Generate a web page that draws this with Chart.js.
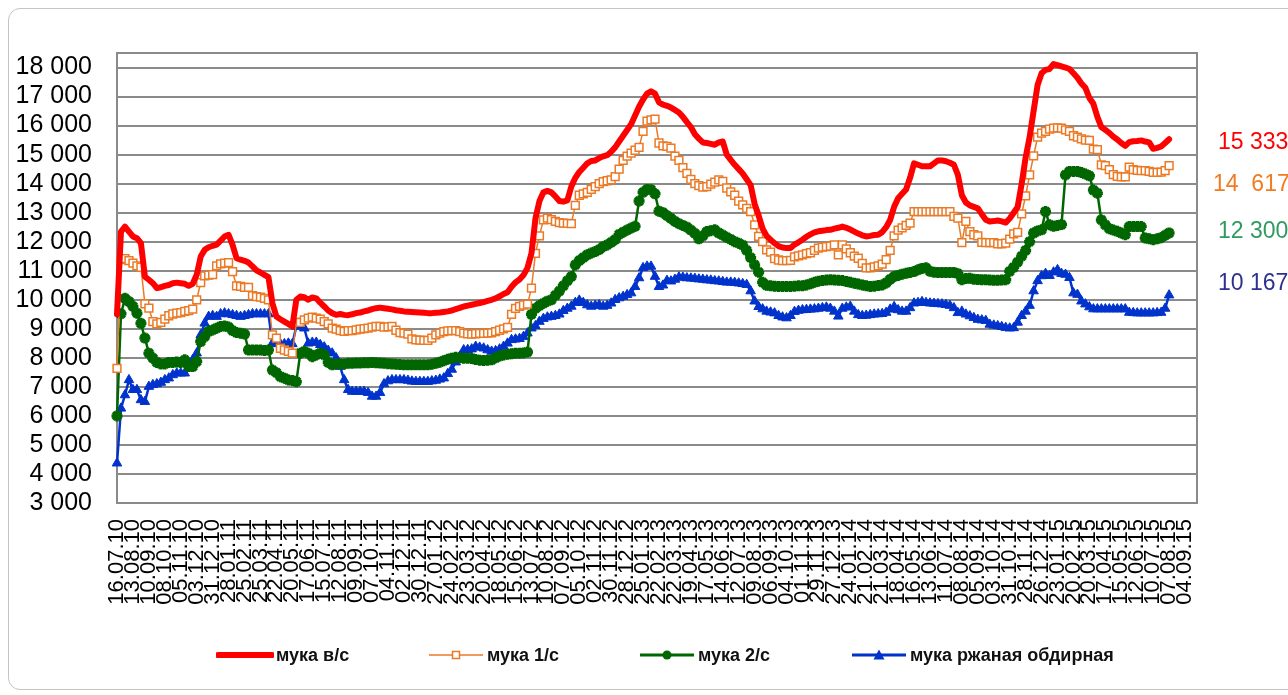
<!DOCTYPE html>
<html>
<head>
<meta charset="utf-8">
<script src="https://cdn.jsdelivr.net/npm/chart.js@4.4.1/dist/chart.umd.min.js"></script>
<style>
  body { margin: 0; background: #fff; }
  #wrap { position: relative; width: 1288px; height: 695px; overflow: hidden; background: #fff; }
  #frame { position: absolute; left: 8px; top: 8px; width: 1320px; height: 680px; border: 1.5px solid #c4c4c4; border-radius: 12px; }
  canvas { position: absolute; left: 0; top: 0; }
  .val { position: absolute; font: 23px 'Liberation Sans', Arial, sans-serif; line-height: 26px; white-space: pre; }
  .leg { position: absolute; top: 644px; height: 22px; display: flex; align-items: center; font: bold 18px 'Liberation Sans', Arial, sans-serif; color: #111; white-space: nowrap; }
  .leg svg { margin-right: 2px; }
</style>
</head>
<body>
<div id="wrap">
  <div id="frame"></div>
  <canvas id="chart" width="1288" height="695"></canvas>

  <span class="val" style="left:1218px; top:128px; color:#ff0000">15 333</span>
  <span class="val" style="left:1213px; top:170px; color:#f07c22">14  617</span>
  <span class="val" style="left:1218px; top:217px; color:#2f9a5f">12 300</span>
  <span class="val" style="left:1218px; top:269px; color:#2e3192">10 167</span>

  <div class="leg" style="left:216px">
    <svg width="58" height="14"><line x1="2" y1="7" x2="56" y2="7" stroke="#ff0000" stroke-width="6" stroke-linecap="round"/></svg>мука в/с
  </div>
  <div class="leg" style="left:427px">
    <svg width="58" height="14"><line x1="2" y1="7" x2="56" y2="7" stroke="#eb7a26" stroke-width="1.5"/><rect x="25.5" y="3.5" width="7" height="7" fill="#fff" stroke="#eb7a26" stroke-width="1.5"/></svg>мука 1/с
  </div>
  <div class="leg" style="left:638px">
    <svg width="58" height="14"><line x1="2" y1="7" x2="56" y2="7" stroke="#006600" stroke-width="3"/><circle cx="29" cy="7" r="4.5" fill="#006600"/></svg>мука 2/с
  </div>
  <div class="leg" style="left:850px">
    <svg width="58" height="14"><line x1="2" y1="7" x2="56" y2="7" stroke="#0033cc" stroke-width="3"/><polygon points="29,1.5 34.5,11.5 23.5,11.5" fill="#0033cc"/></svg>мука ржаная обдирная
  </div>
</div>

<script>
// weekly prices, 16.07.10 .. 07.08.15
const tickLabels = [
  '16.07.10', '13.08.10', '10.09.10', '08.10.10', '05.11.10', '03.12.10', '31.12.10',
  '28.01.11', '25.02.11', '25.03.11', '22.04.11', '20.05.11', '17.06.11', '15.07.11', '12.08.11',
  '09.09.11', '07.10.11', '04.11.11', '02.12.11', '30.12.11',
  '27.01.12', '24.02.12', '23.03.12', '20.04.12', '18.05.12', '15.06.12', '13.07.12', '10.08.12',
  '07.09.12', '05.10.12', '02.11.12', '30.11.12', '28.12.12',
  '25.01.13', '22.02.13', '22.03.13', '19.04.13', '17.05.13', '14.06.13', '12.07.13', '09.08.13',
  '06.09.13', '04.10.13', '01.11.13', '29.11.13', '27.12.13',
  '24.01.14', '21.02.14', '21.03.14', '18.04.14', '16.05.14', '13.06.14', '11.07.14', '08.08.14',
  '05.09.14', '03.10.14', '31.10.14', '28.11.14', '26.12.14',
  '23.01.15', '20.02.15', '20.03.15', '17.04.15', '15.05.15', '12.06.15', '10.07.15', '07.08.15', '04.09.15'
];

const yTicks = [3000, 4000, 5000, 6000, 7000, 8000, 9000, 10000, 11000, 12000,
  13000, 14000, 15000, 16000, 17000, 18000];

const vs = [
  9500, 12350, 12520, 12350, 12180, 12120, 11950, 10800, 10690, 10570,
  10400, 10430, 10480, 10510, 10570, 10590, 10570, 10550, 10480, 10550,
  10860, 11490, 11720, 11810, 11860, 11900, 12040, 12180, 12240, 11890,
  11430, 11380, 11340, 11280, 11150, 11010, 10940, 10860, 10780, 9880,
  9420, 9330, 9250, 9170, 9080, 10000, 10110, 10090, 10000, 10080,
  10050, 9900, 9770, 9630, 9540, 9480, 9510, 9480, 9470, 9500,
  9540, 9560, 9600, 9630, 9680, 9710, 9730, 9710, 9690, 9670,
  9640, 9620, 9600, 9590, 9580, 9570, 9560, 9550, 9540, 9540,
  9550, 9560, 9580, 9600, 9630, 9680, 9720, 9770, 9800, 9830,
  9860, 9890, 9920, 9960, 10000, 10050, 10120, 10200, 10260, 10450,
  10600, 10700, 10850, 11100, 11600, 12800, 13400, 13700, 13750, 13700,
  13560, 13400, 13380, 13420, 13900, 14200, 14400, 14550, 14700, 14780,
  14800, 14880, 14940, 14980, 15100, 15250, 15450, 15650, 15850, 16050,
  16350, 16650, 16900, 17100, 17180, 17100, 16800, 16720, 16680, 16620,
  16540, 16450, 16300, 16120, 15950, 15700, 15550, 15420, 15400, 15370,
  15340, 15420, 15450, 15000, 14820, 14650, 14500, 14350, 14150, 13950,
  13300, 12900, 12450, 12200, 12070, 11950, 11850, 11800, 11780, 11780,
  11900, 11980, 12070, 12170, 12250, 12320, 12360, 12380, 12400, 12410,
  12450, 12480, 12520, 12480, 12420, 12350, 12280, 12220, 12180, 12200,
  12230, 12240, 12330, 12500, 12750, 13200, 13500, 13650, 13800, 14200,
  14700, 14650, 14600, 14600, 14600, 14700, 14800, 14800, 14770, 14720,
  14650, 14300, 13600, 13350, 13250, 13200, 13150, 12950, 12760, 12700,
  12710, 12730, 12700, 12660, 12800, 13000, 13200, 14000, 14900, 15600,
  16500, 17400, 17800, 17920, 17950, 18120, 18080, 18040, 18000, 17950,
  17800, 17650, 17450, 17300, 16950, 16750, 16300, 15950, 15850, 15750,
  15620, 15520, 15400, 15300, 15430, 15460, 15470, 15490, 15450, 15420,
  15200, 15230, 15280, 15400, 15530
];

const first = [
  7640, 11380, 11420, 11350, 11260, 11170, 11120, 9860, 9710, 9250,
  9170, 9220, 9330, 9450, 9510, 9540, 9560, 9600, 9630, 9680,
  10000, 10590, 10820, 10850, 10870, 11170, 11240, 11260, 11280, 10970,
  10480, 10460, 10430, 10430, 10140, 10110, 10090, 10050, 10000, 8790,
  8680, 8330, 8270, 8220, 8160, 9220, 9220, 9310, 9370, 9400,
  9370, 9330, 9250, 9170, 9020, 8990, 8940, 8910, 8940, 8940,
  8960, 8990, 9010, 9020, 9060, 9080, 9080, 9060, 9070, 9080,
  8950, 8870, 8850, 8820, 8650, 8620, 8610, 8600, 8600, 8680,
  8790, 8850, 8900, 8930, 8940, 8940, 8900, 8850, 8830, 8820,
  8830, 8840, 8840, 8850, 8860, 8900, 8950, 9000, 9050, 9500,
  9700, 9770, 9820, 9850, 10400, 11600, 12200, 12750, 12810, 12760,
  12700, 12660, 12640, 12630, 12620, 13250, 13600, 13650, 13700, 13800,
  13900, 14000, 14070, 14100, 14130, 14240, 14500, 14800, 14950, 15050,
  15150, 15250, 15800, 16150, 16200, 16220, 15400, 15300, 15280, 15220,
  14950, 14800, 14550, 14350, 14150, 14000, 13930, 13880, 13900, 13980,
  14050, 14130, 14080, 13850, 13720, 13600, 13400, 13270, 13150, 13040,
  12580, 12180, 12000, 11720, 11640, 11420, 11370, 11350, 11350, 11360,
  11480, 11510, 11550, 11590, 11620, 11700, 11780, 11810, 11830, 11850,
  11890, 11550, 11890, 11750, 11620, 11500, 11430, 11250, 11100, 11100,
  11130, 11170, 11230, 11380, 11700, 12200, 12400, 12480, 12560, 12640,
  13040, 13040, 13040, 13040, 13040, 13040, 13040, 13040, 13040, 13040,
  12870, 12810, 11970, 12700, 12350, 12240, 12200, 11980, 11970, 11970,
  11970, 11930, 11930, 11950, 12090, 12270, 12320, 12960, 13580, 14300,
  14960, 15600, 15740, 15800, 15880, 15910, 15920, 15910, 15850, 15800,
  15650, 15600, 15540, 15500, 15490, 15190, 15170, 14650, 14620, 14480,
  14310, 14250, 14230, 14230, 14570, 14480, 14460, 14450, 14450, 14420,
  14390, 14390, 14400, 14450, 14620
];

const second = [
  6000, 9515, 10050, 9940, 9770, 9540, 9190, 8680, 8160, 7990,
  7840, 7790, 7790, 7840, 7840, 7860, 7840, 7930, 7700, 7700,
  7870, 8560, 8730, 8910, 8960, 9020, 9080, 9100, 9060, 8940,
  8870, 8850, 8820, 8270, 8270, 8270, 8270, 8250, 8270, 7580,
  7490, 7350, 7300, 7240, 7220, 7180, 8160, 8220, 8160, 8040,
  8100, 8160, 8100, 7840, 7760, 7790, 7790, 7790, 7810, 7810,
  7820, 7820, 7830, 7830, 7840, 7830, 7820, 7810, 7800, 7790,
  7780, 7770, 7760, 7760, 7760, 7760, 7760, 7760, 7760, 7780,
  7810, 7850, 7900, 7950, 7990, 8020, 8000, 7990, 7990, 7980,
  7940, 7920, 7910, 7920, 7930, 8000, 8060, 8100, 8120, 8140,
  8160, 8160, 8170, 8200, 9500, 9700, 9800, 9880, 9950, 10000,
  10150, 10300, 10480, 10650, 10800, 11200, 11350, 11450, 11550, 11610,
  11660, 11730, 11830, 11890, 11980, 12070, 12250, 12330, 12400, 12470,
  12530, 13400, 13700, 13800, 13790, 13650, 13050, 13000, 12900, 12800,
  12700, 12620, 12560, 12500, 12400, 12290, 12100, 12200, 12350, 12380,
  12410, 12300, 12230, 12150, 12080, 12000, 11950, 11880, 11700, 11450,
  11200, 10950, 10600, 10500, 10480, 10470, 10460, 10460, 10460, 10460,
  10470, 10480, 10480, 10510, 10550, 10600, 10640, 10660, 10680, 10690,
  10680, 10670, 10660, 10630, 10600, 10570, 10540, 10510, 10480, 10460,
  10470, 10490, 10510, 10580, 10700, 10800, 10840, 10880, 10910, 10940,
  10970, 11030, 11080, 11100, 10980, 10950, 10940, 10940, 10940, 10940,
  10940, 10900, 10690, 10730, 10740, 10710, 10700, 10690, 10690, 10680,
  10670, 10670, 10680, 10690, 10980, 11120, 11300, 11500, 11700, 12000,
  12300, 12370, 12410, 13040, 12580, 12530, 12560, 12590, 14300, 14420,
  14420, 14420, 14380, 14330, 14270, 13780, 13670, 12750, 12580, 12450,
  12400, 12360, 12300, 12240, 12520, 12520, 12520, 12520, 12130, 12100,
  12070, 12100, 12140, 12220, 12300
];

const rye = [
  4370, 6260, 6720, 7240, 6900, 6900, 6550, 6490, 7010, 7070,
  7100, 7150, 7240, 7300, 7410, 7470, 7470, 7470, 7810, 7930,
  8160, 8790, 9190, 9420, 9450, 9420, 9510, 9540, 9510, 9480,
  9450, 9420, 9450, 9480, 9510, 9510, 9510, 9510, 9510, 8500,
  8480, 8480, 8480, 8500, 8480, 9080, 9100, 9020, 8500, 8530,
  8530, 8450, 8370, 8250, 8160, 7990, 7700, 7240, 6900, 6840,
  6840, 6840, 6840, 6800, 6670, 6670, 6800, 7100, 7200, 7240,
  7240, 7240, 7240, 7220, 7190, 7180, 7180, 7180, 7180, 7200,
  7220, 7260, 7300, 7450, 7600, 7850, 8050, 8270, 8280, 8300,
  8390, 8360, 8330, 8270, 8220, 8240, 8300, 8390, 8500, 8620,
  8640, 8660, 8730, 8850, 9020, 9100, 9250, 9350, 9400, 9420,
  9450, 9500, 9620, 9700, 9770, 9900, 9980, 9900, 9820, 9770,
  9800, 9820, 9770, 9800, 9880, 10000, 10060, 10110, 10170, 10230,
  10450, 10750, 11100, 11150, 11150, 10800, 10450, 10500, 10660, 10640,
  10700, 10780, 10770, 10750, 10740, 10730, 10710, 10700, 10680, 10670,
  10650, 10640, 10620, 10600, 10600, 10590, 10570, 10550, 10520, 10300,
  9950, 9760, 9680, 9600, 9570, 9540, 9450, 9400, 9370, 9450,
  9590, 9630, 9650, 9660, 9670, 9680, 9700, 9720, 9740, 9700,
  9600, 9430, 9700, 9740, 9770, 9600, 9480, 9450, 9460, 9480,
  9500, 9510, 9520, 9560, 9670, 9760, 9650, 9600, 9600, 9720,
  9880, 9900, 9930, 9900, 9880, 9870, 9860, 9850, 9830, 9800,
  9720, 9550, 9600, 9500, 9440, 9380, 9320, 9300, 9280, 9150,
  9120, 9100, 9070, 9040, 9020, 9030, 9220, 9450, 9600, 9800,
  10300, 10650, 10820, 10900, 10830, 10950, 11030, 10900, 10870, 10760,
  10230, 10180, 9950, 9850, 9750, 9680, 9680, 9680, 9680, 9680,
  9680, 9680, 9680, 9680, 9560, 9550, 9540, 9540, 9540, 9540,
  9540, 9550, 9560, 9700, 10160
];

// 272 weekly slots on the axis, a label every 4th
const categories = [];
for (let i = 0; i < 272; i++) categories.push(i % 4 === 0 ? tickLabels[i / 4] : '');

const grey = '#8a8a8a';

const frame = {
  id: 'frame',
  beforeDatasetsDraw(c) {
    const a = c.chartArea, g = c.ctx;
    g.save();
    g.strokeStyle = grey;
    g.lineWidth = 2;
    g.strokeRect(a.left, a.top, a.right - a.left, a.bottom - a.top);
    g.restore();
  }
};

Chart.defaults.font.family = "'Liberation Sans', Arial, sans-serif";
Chart.defaults.color = '#000';

new Chart(document.getElementById('chart'), {
  type: 'line',
  data: {
    labels: categories,
    datasets: [
      { label: 'мука в/с', data: vs, borderColor: '#ff0000', borderWidth: 6,
        pointRadius: 0, borderJoinStyle: 'round', borderCapStyle: 'round' },
      { label: 'мука 1/с', data: first, borderColor: '#eb7a26', borderWidth: 1.5,
        pointStyle: 'rect', pointRadius: 5.5, pointBorderWidth: 1.5,
        pointBackgroundColor: '#fff', pointBorderColor: '#eb7a26' },
      { label: 'мука 2/с', data: second, borderColor: '#006600', borderWidth: 2.5,
        pointStyle: 'star', pointRadius: 5.5, pointBorderWidth: 3.5,
        pointBorderColor: '#006600', pointBackgroundColor: '#006600' },
      { label: 'мука ржаная обдирная', data: rye, borderColor: '#0033cc', borderWidth: 2.5,
        pointStyle: 'triangle', pointRadius: 5.5, pointBorderWidth: 1,
        pointBorderColor: '#0033cc', pointBackgroundColor: '#0033cc' }
    ]
  },
  options: {
    responsive: false,
    animation: false,
    events: [],
    devicePixelRatio: 1,
    layout: { padding: { left: 0, right: 91, top: 53, bottom: 0 } },
    plugins: { legend: { display: false }, tooltip: { enabled: false } },
    scales: {
      x: {
        grid: { display: false },
        border: { display: false },
        afterFit: s => { s.height = 192; },
        ticks: {
          autoSkip: false, minRotation: 90, maxRotation: 90, padding: 8,
          font: { size: 22 },
          callback: (v, i) => (i % 4 === 0 ? tickLabels[i / 4] : null)
        }
      },
      y: {
        min: 3000, max: 18500,
        afterFit: s => { s.width = 117; },
        afterBuildTicks: s => { s.ticks = yTicks.map(v => ({ value: v })).concat([{ value: 18500 }]); },
        border: { display: false },
        grid: { color: grey, lineWidth: 2, drawTicks: false },
        ticks: {
          autoSkip: false, padding: 25,
          font: { size: 25 },
          callback: v => (v > 18000 ? '' : String(v).replace(/\B(?=(\d{3})+(?!\d))/g, ' '))
        }
      }
    }
  },
  plugins: [frame]
});
</script>
</body>
</html>
